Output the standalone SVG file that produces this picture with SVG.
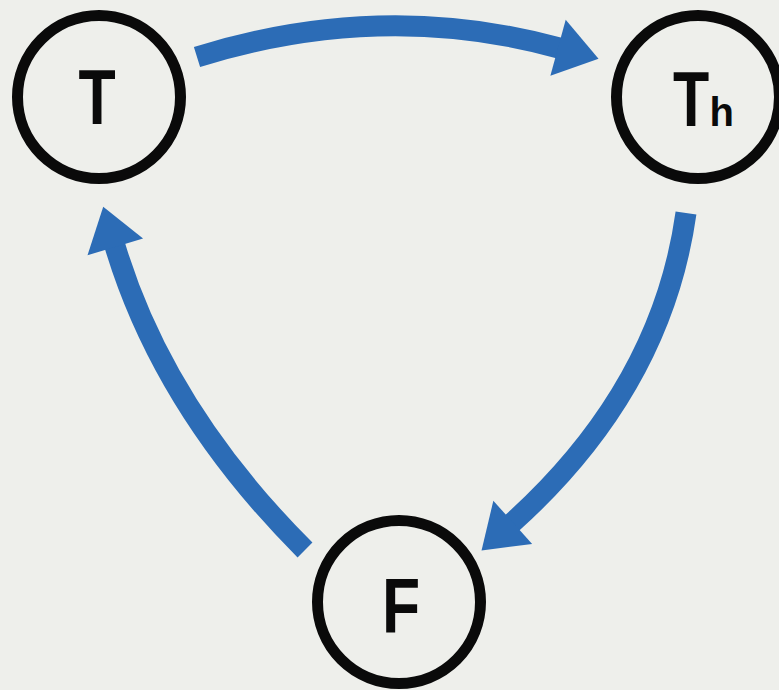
<svg xmlns="http://www.w3.org/2000/svg" width="779" height="690" viewBox="0 0 779 690">
<style>
.node circle{fill:none;stroke:#0a0a0a;stroke-width:11}
.lbl{font-family:"Liberation Sans",Arial,sans-serif;font-weight:bold;fill:#0a0a0a}
.arrow{fill:none;stroke:#2c6cb6;stroke-width:21;stroke-linecap:butt;marker-end:url(#head)}
</style>
<defs>
<marker id="head" markerUnits="userSpaceOnUse" markerWidth="50" markerHeight="64" refX="1" refY="0" viewBox="0 -32 46 64" orient="auto" overflow="visible">
<path d="M0,-29 L42,0 L0,29 Z" fill="#2c6cb6"/>
</marker>
</defs>
<rect width="779" height="690" fill="#eeefeb"/>
<g id="connectors">
<path class="arrow" d="M197,57 Q382,-0.5 559,48"/>
<path class="arrow" d="M686,213 Q661.4,388.5 512,523"/>
<path class="arrow" d="M305,550 Q163.9,408.9 115,246"/>
</g>
<g id="node-T" class="node">
<circle cx="99" cy="97" r="81.5"/>
<text class="lbl" font-size="78" text-anchor="middle" transform="translate(97,124) scale(0.78,1)">T</text>
</g>
<g id="node-Th" class="node">
<circle cx="698" cy="97" r="81.5"/>
<text class="lbl" font-size="78" text-anchor="middle" transform="translate(691,126) scale(0.76,1)">T</text>
<text class="lbl" font-size="40" x="709.5" y="126">h</text>
</g>
<g id="node-F" class="node">
<circle cx="399" cy="602" r="81.5"/>
<text class="lbl" font-size="78" text-anchor="middle" transform="translate(401,633) scale(0.8,1)">F</text>
</g>
</svg>
